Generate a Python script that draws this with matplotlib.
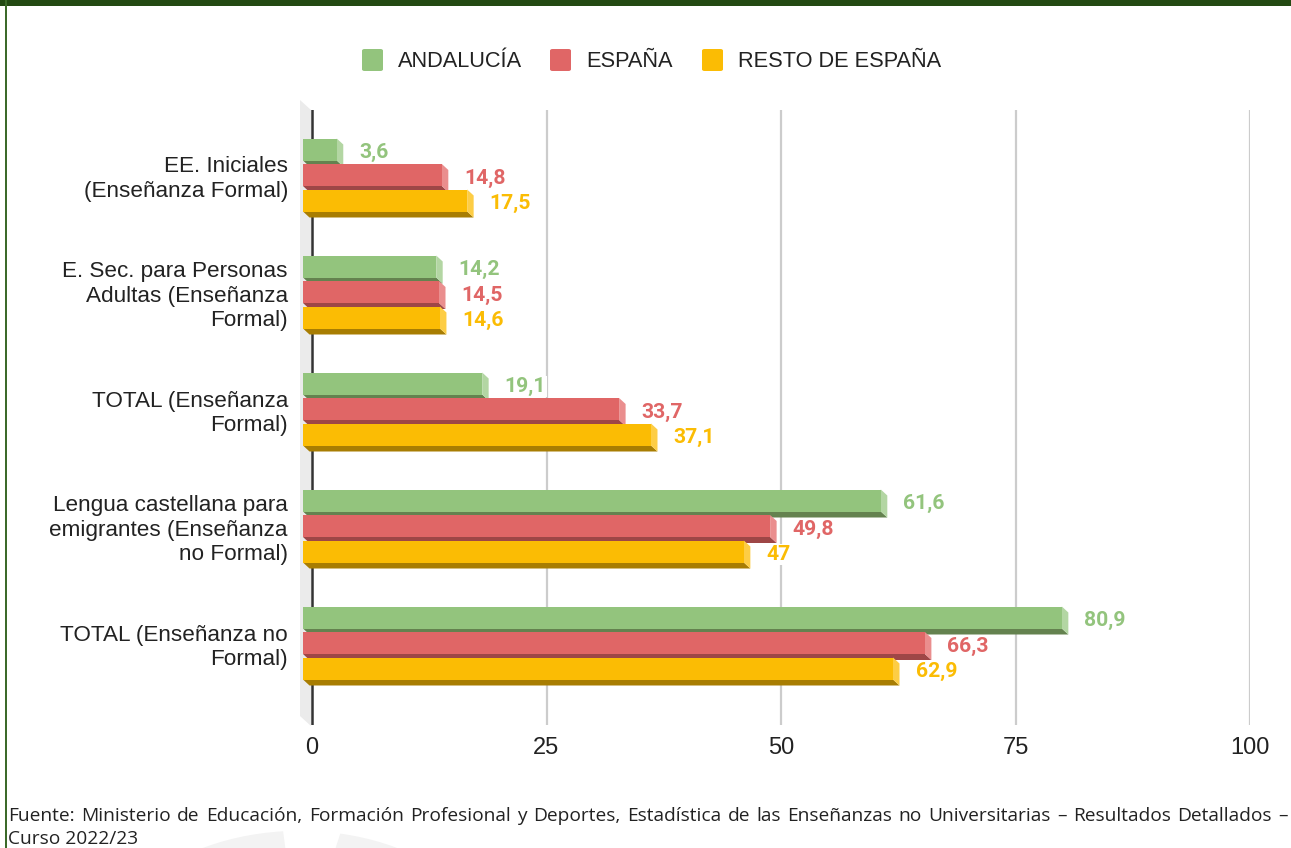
import numpy as np
import matplotlib.pyplot as plt
from matplotlib.patches import Polygon, Rectangle, FancyBboxPatch, Wedge

# datos
categorias = ["EE. Iniciales\n(Enseñanza Formal)",
              "E. Sec. para Personas\nAdultas (Enseñanza\nFormal)",
              "TOTAL (Enseñanza\nFormal)",
              "Lengua castellana para\nemigrantes (Enseñanza\nno Formal)",
              "TOTAL (Enseñanza no\nFormal)"]
andalucia = [3.6, 14.2, 19.1, 61.6, 80.9]
espana = [14.8, 14.5, 33.7, 49.8, 66.3]
resto = [17.5, 14.6, 37.1, 47, 62.9]
series = ["ANDALUCÍA", "ESPAÑA", "RESTO DE ESPAÑA"]
ticks = [0, 25, 50, 75, 100]
fuente = ("Fuente: Ministerio de Educación, Formación Profesional y Deportes, Estadística de las "
          "Enseñanzas no Universitarias – Resultados Detallados –")
fuente2 = "Curso 2022/23"

# colores: frente, fondo (oscuro), lateral (claro)
colores = [("#93C47D", "#64824F", "#B3D6A3"),
           ("#E06666", "#9E4646", "#EA8E8E"),
           ("#FBBC04", "#A87D02", "#FDCD45")]

W, H = 1291, 848
fig = plt.figure(figsize=(W / 100, H / 100), dpi=100)
fig.patch.set_facecolor("white")

# eje: 0 -> px 312, 100 -> px 1250
pxx = (1250 - 312) / 100.0
pxy = 117.0
ax = fig.add_axes([299 / W, (H - 725) / H, 951 / W, 615 / H])
ax.set_xlim(-13 / pxx, 100)
ax.set_ylim(4 + 82 / pxy, -65 / pxy)
ax.set_facecolor("none")
for s in ax.spines.values():
    s.set_visible(False)

# pared 3D
pared = Polygon([(-12 / pxx, -75 / pxy), (-1 / pxx, -65 / pxy),
                 (-1 / pxx, 4 + 83 / pxy), (-12 / pxx, 4 + 73 / pxy)],
                closed=True, facecolor="#EBEBEB", edgecolor="none", clip_on=False, zorder=0)
ax.add_patch(pared)

for t in ticks[1:]:
    ax.axvline(t, color="#CCCCCC", lw=1.6, zorder=1)
ax.axvline(0, color="#333333", lw=1.8, zorder=1)

izq = -9 / pxx
alto = 22 / pxy
paso = 25.5 / pxy
dx = 6.5 / pxx
dy = 6 / pxy
datos = [andalucia, espana, resto]

for i in range(len(categorias)):
    for k, vals in enumerate(datos):
        v = vals[i]
        yc = i + (k - 1) * paso
        yt, yb = yc - alto / 2, yc + alto / 2
        fr, osc, cla = colores[k]
        x1 = izq + v
        ax.add_patch(Polygon([(izq, yb), (x1, yb), (x1 + dx, yb + dy), (izq + dx, yb + dy)],
                             closed=True, facecolor=osc, edgecolor="none", zorder=2 + k))
        ax.add_patch(Polygon([(x1, yt), (x1 + dx, yt + dy), (x1 + dx, yb + dy), (x1, yb)],
                             closed=True, facecolor=cla, edgecolor="none", zorder=2 + k))
        ax.barh(yc, v, left=izq, height=alto, color=fr, zorder=2 + k)
        txt = f"{v:g}".replace(".", ",")
        ax.text(x1 + dx + 16 / pxx, yc + 3 / pxy, txt, color=fr, fontsize=15.2,
                fontweight="bold", family="Roboto", va="center", ha="left", zorder=10,
                bbox=dict(facecolor="white", edgecolor="none", pad=0.5))

ax.set_xticks(ticks)
ax.set_xticklabels([str(t) for t in ticks], fontsize=17, family="Liberation Sans", color="#222222")
ax.set_yticks(range(len(categorias)))
ax.set_yticklabels(categorias, fontsize=16.2, family="Liberation Sans", color="#222222",
                   linespacing=1.2)
ax.tick_params(axis="x", length=0, pad=9)
ax.tick_params(axis="y", length=0, pad=8)

# leyenda
ley_cuadro = [362, 550, 702]
ley_texto = [398, 586, 738]
for k in range(3):
    fig.patches.append(FancyBboxPatch(((ley_cuadro[k]) / W, (H - 71) / H), 21 / W, 22 / H,
                                      boxstyle="round,pad=0,rounding_size=0.002",
                                      transform=fig.transFigure, facecolor=colores[k][0],
                                      edgecolor="none"))
    fig.text(ley_texto[k] / W, (H - 61.5) / H, series[k], fontsize=15.7, family="Liberation Sans",
             color="#222222", va="center", ha="left")

# marco
fig.patches.append(Rectangle((0, (H - 6) / H), 1, 6 / H, transform=fig.transFigure,
                             facecolor="#234A13", edgecolor="none"))
fig.patches.append(Rectangle((5 / W, 0), 2 / W, 1, transform=fig.transFigure,
                             facecolor="#3C6A2A", edgecolor="none"))

# marca de agua
for a1, a2 in [(95, 150), (20, 78)]:
    fig.patches.append(Wedge((300 / W, -110 / H), 0.15, a1, a2, width=0.03,
                             transform=fig.transFigure, facecolor="#F3F3F3",
                             edgecolor="none", zorder=-1))

# nota justificada
fig.canvas.draw()
r = fig.canvas.get_renderer()
palabras = fuente.split(" ")
objs = [fig.text(0, (H - 821) / H, p, fontsize=13.8, family="Open Sans", color="#222222",
                 va="baseline", ha="left") for p in palabras]
anchos = [o.get_window_extent(r).width for o in objs]
x0, x1 = 8, 1288
hueco = (x1 - x0 - sum(anchos)) / (len(palabras) - 1)
x = x0
for o, a in zip(objs, anchos):
    o.set_x(x / W)
    x += a + hueco
fig.text(8 / W, (H - 844) / H, fuente2, fontsize=13.8, family="Open Sans", color="#222222",
         va="baseline", ha="left")

fig.savefig("out.png", dpi=100)
